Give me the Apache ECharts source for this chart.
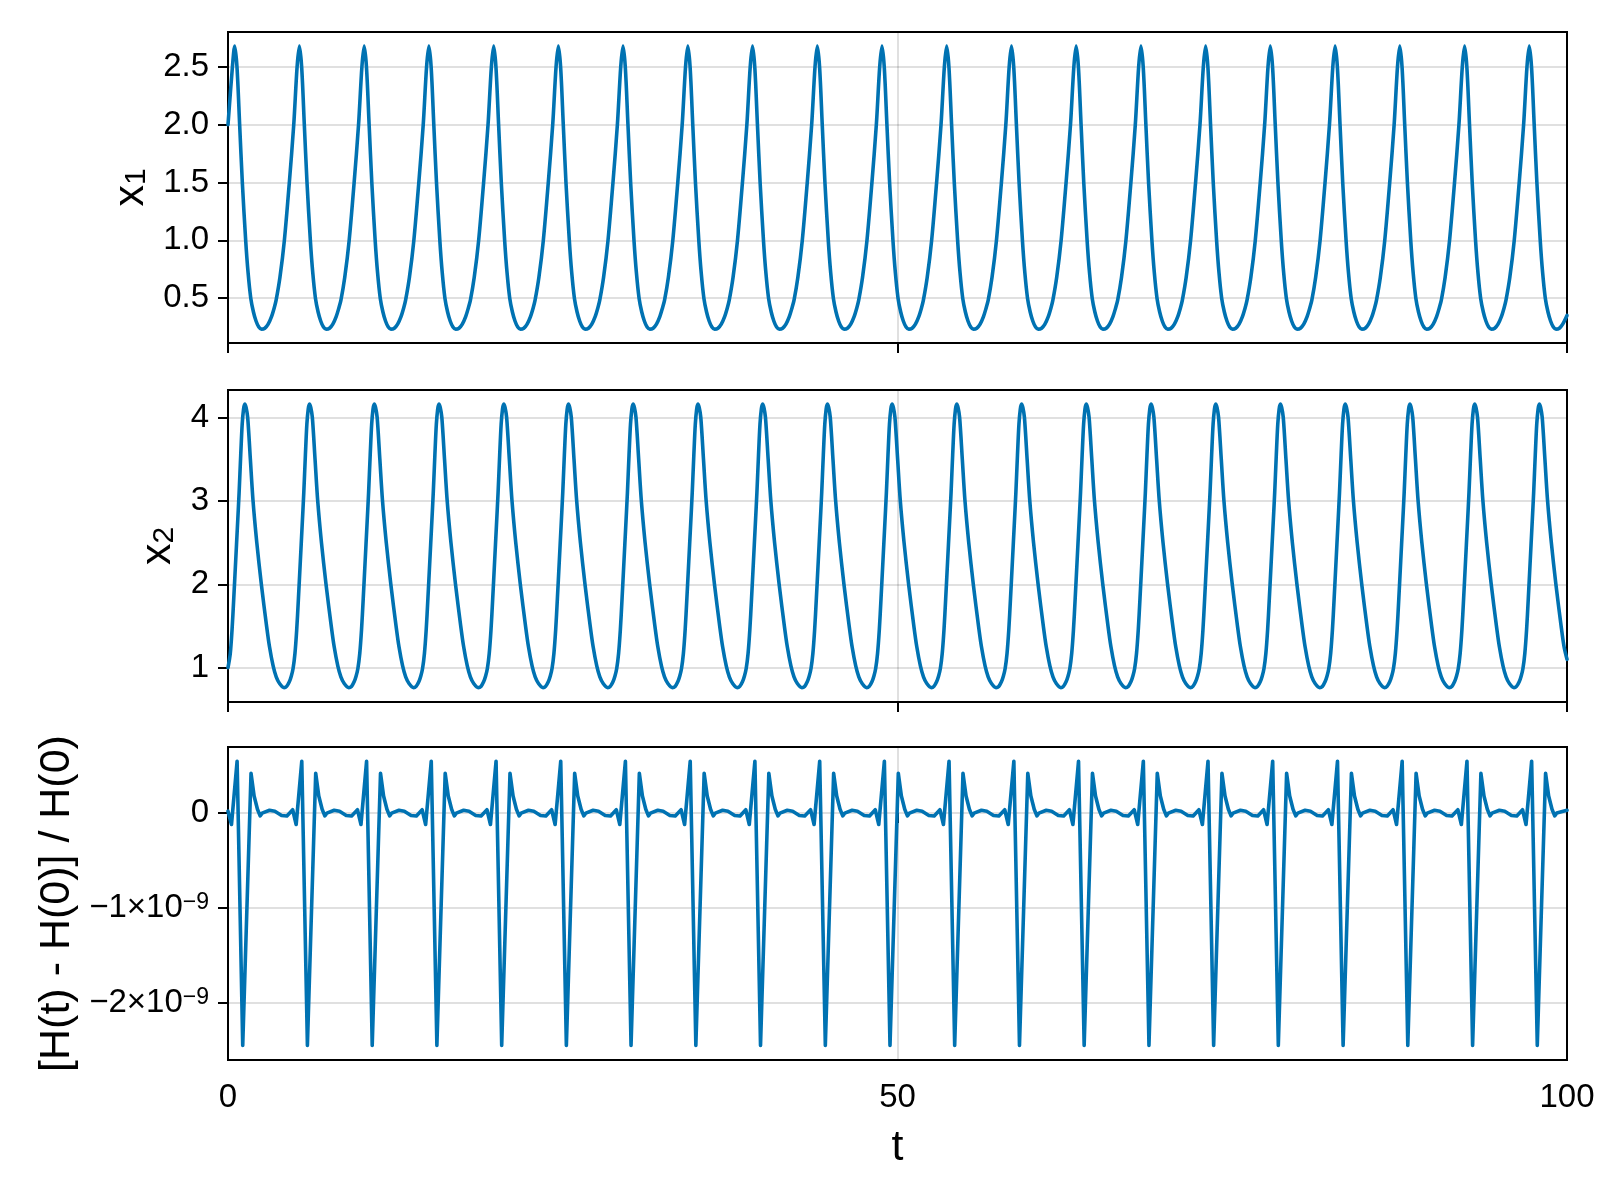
<!DOCTYPE html>
<html><head><meta charset="utf-8">
<script src="https://cdn.jsdelivr.net/npm/echarts@6/dist/echarts.min.js"></script>
<style>html,body{margin:0;padding:0;background:#fff}#chart{width:1600px;height:1200px}</style>
</head><body><div id="chart"></div>
<script>
// ---- data ----
const tTicks = [0, 50, 100];
const x1Ticks = [0.5, 1.0, 1.5, 2.0, 2.5];
const x2Ticks = [1, 2, 3, 4];
const hTicks = [-2, -1, 0]; // units of 1e-9

// x1(t)
const x1Data = [
[0,2.0],[0.33,2.5],[0.5,2.68],[0.67,2.5],[0.87,2],[1.07,1.5],[1.32,1],[1.5,0.72],[1.7,0.5],[1.9,0.38],[2.1,0.3],[2.3,0.25],[2.5,0.232],[2.75,0.24],[3.0,0.275],[3.25,0.34],[3.45,0.415],
[3.59,0.48],[3.88,0.68],[4.21,1],[4.58,1.5],[4.91,2],[5.16,2.5],[5.33,2.68],[5.5,2.5],[5.7,2],[5.9,1.5],[6.15,1],[6.33,0.72],[6.53,0.5],[6.73,0.38],[6.93,0.3],[7.13,0.25],[7.33,0.232],[7.58,0.24],[7.83,0.275],[8.08,0.34],[8.28,0.415],
[8.43,0.48],[8.72,0.68],[9.05,1],[9.42,1.5],[9.75,2],[10,2.5],[10.17,2.68],[10.34,2.5],[10.54,2],[10.74,1.5],[10.99,1],[11.17,0.72],[11.37,0.5],[11.57,0.38],[11.77,0.3],[11.97,0.25],[12.17,0.232],[12.42,0.24],[12.67,0.275],[12.92,0.34],[13.12,0.415],
[13.26,0.48],[13.55,0.68],[13.88,1],[14.25,1.5],[14.58,2],[14.83,2.5],[15,2.68],[15.17,2.5],[15.37,2],[15.57,1.5],[15.82,1],[16,0.72],[16.2,0.5],[16.4,0.38],[16.6,0.3],[16.8,0.25],[17,0.232],[17.25,0.24],[17.5,0.275],[17.75,0.34],[17.95,0.415],
[18.1,0.48],[18.39,0.68],[18.72,1],[19.09,1.5],[19.42,2],[19.67,2.5],[19.84,2.68],[20.01,2.5],[20.21,2],[20.41,1.5],[20.66,1],[20.84,0.72],[21.04,0.5],[21.24,0.38],[21.44,0.3],[21.64,0.25],[21.84,0.232],[22.09,0.24],[22.34,0.275],[22.59,0.34],[22.79,0.415],
[22.93,0.48],[23.22,0.68],[23.55,1],[23.92,1.5],[24.25,2],[24.5,2.5],[24.67,2.68],[24.84,2.5],[25.04,2],[25.24,1.5],[25.49,1],[25.67,0.72],[25.87,0.5],[26.07,0.38],[26.27,0.3],[26.47,0.25],[26.67,0.232],[26.92,0.24],[27.17,0.275],[27.42,0.34],[27.62,0.415],
[27.76,0.48],[28.05,0.68],[28.38,1],[28.75,1.5],[29.08,2],[29.33,2.5],[29.5,2.68],[29.67,2.5],[29.87,2],[30.07,1.5],[30.32,1],[30.5,0.72],[30.7,0.5],[30.9,0.38],[31.1,0.3],[31.3,0.25],[31.5,0.232],[31.75,0.24],[32,0.275],[32.25,0.34],[32.45,0.415],
[32.6,0.48],[32.89,0.68],[33.22,1],[33.59,1.5],[33.92,2],[34.17,2.5],[34.34,2.68],[34.51,2.5],[34.71,2],[34.91,1.5],[35.16,1],[35.34,0.72],[35.54,0.5],[35.74,0.38],[35.94,0.3],[36.14,0.25],[36.34,0.232],[36.59,0.24],[36.84,0.275],[37.09,0.34],[37.29,0.415],
[37.43,0.48],[37.72,0.68],[38.05,1],[38.42,1.5],[38.75,2],[39,2.5],[39.17,2.68],[39.34,2.5],[39.54,2],[39.74,1.5],[39.99,1],[40.17,0.72],[40.37,0.5],[40.57,0.38],[40.77,0.3],[40.97,0.25],[41.17,0.232],[41.42,0.24],[41.67,0.275],[41.92,0.34],[42.12,0.415],
[42.27,0.48],[42.56,0.68],[42.89,1],[43.26,1.5],[43.59,2],[43.84,2.5],[44.01,2.68],[44.18,2.5],[44.38,2],[44.58,1.5],[44.83,1],[45.01,0.72],[45.21,0.5],[45.41,0.38],[45.61,0.3],[45.81,0.25],[46.01,0.232],[46.26,0.24],[46.51,0.275],[46.76,0.34],[46.96,0.415],
[47.1,0.48],[47.39,0.68],[47.72,1],[48.09,1.5],[48.42,2],[48.67,2.5],[48.84,2.68],[49.01,2.5],[49.21,2],[49.41,1.5],[49.66,1],[49.84,0.72],[50.04,0.5],[50.24,0.38],[50.44,0.3],[50.64,0.25],[50.84,0.232],[51.09,0.24],[51.34,0.275],[51.59,0.34],[51.79,0.415],
[51.93,0.48],[52.22,0.68],[52.55,1],[52.92,1.5],[53.25,2],[53.5,2.5],[53.67,2.68],[53.84,2.5],[54.04,2],[54.24,1.5],[54.49,1],[54.67,0.72],[54.87,0.5],[55.07,0.38],[55.27,0.3],[55.47,0.25],[55.67,0.232],[55.92,0.24],[56.17,0.275],[56.42,0.34],[56.62,0.415],
[56.77,0.48],[57.06,0.68],[57.39,1],[57.76,1.5],[58.09,2],[58.34,2.5],[58.51,2.68],[58.68,2.5],[58.88,2],[59.08,1.5],[59.33,1],[59.51,0.72],[59.71,0.5],[59.91,0.38],[60.11,0.3],[60.31,0.25],[60.51,0.232],[60.76,0.24],[61.01,0.275],[61.26,0.34],[61.46,0.415],
[61.6,0.48],[61.89,0.68],[62.22,1],[62.59,1.5],[62.92,2],[63.17,2.5],[63.34,2.68],[63.51,2.5],[63.71,2],[63.91,1.5],[64.16,1],[64.34,0.72],[64.54,0.5],[64.74,0.38],[64.94,0.3],[65.14,0.25],[65.34,0.232],[65.59,0.24],[65.84,0.275],[66.09,0.34],[66.29,0.415],
[66.44,0.48],[66.73,0.68],[67.06,1],[67.43,1.5],[67.76,2],[68.01,2.5],[68.18,2.68],[68.35,2.5],[68.55,2],[68.75,1.5],[69,1],[69.18,0.72],[69.38,0.5],[69.58,0.38],[69.78,0.3],[69.98,0.25],[70.18,0.232],[70.43,0.24],[70.68,0.275],[70.93,0.34],[71.13,0.415],
[71.27,0.48],[71.56,0.68],[71.89,1],[72.26,1.5],[72.59,2],[72.84,2.5],[73.01,2.68],[73.18,2.5],[73.38,2],[73.58,1.5],[73.83,1],[74.01,0.72],[74.21,0.5],[74.41,0.38],[74.61,0.3],[74.81,0.25],[75.01,0.232],[75.26,0.24],[75.51,0.275],[75.76,0.34],[75.96,0.415],
[76.1,0.48],[76.39,0.68],[76.72,1],[77.09,1.5],[77.42,2],[77.67,2.5],[77.84,2.68],[78.01,2.5],[78.21,2],[78.41,1.5],[78.66,1],[78.84,0.72],[79.04,0.5],[79.24,0.38],[79.44,0.3],[79.64,0.25],[79.84,0.232],[80.09,0.24],[80.34,0.275],[80.59,0.34],[80.79,0.415],
[80.94,0.48],[81.23,0.68],[81.56,1],[81.93,1.5],[82.26,2],[82.51,2.5],[82.68,2.68],[82.85,2.5],[83.05,2],[83.25,1.5],[83.5,1],[83.68,0.72],[83.88,0.5],[84.08,0.38],[84.28,0.3],[84.48,0.25],[84.68,0.232],[84.93,0.24],[85.18,0.275],[85.43,0.34],[85.63,0.415],
[85.77,0.48],[86.06,0.68],[86.39,1],[86.76,1.5],[87.09,2],[87.34,2.5],[87.51,2.68],[87.68,2.5],[87.88,2],[88.08,1.5],[88.33,1],[88.51,0.72],[88.71,0.5],[88.91,0.38],[89.11,0.3],[89.31,0.25],[89.51,0.232],[89.76,0.24],[90.01,0.275],[90.26,0.34],[90.46,0.415],
[90.61,0.48],[90.9,0.68],[91.23,1],[91.6,1.5],[91.93,2],[92.18,2.5],[92.35,2.68],[92.52,2.5],[92.72,2],[92.92,1.5],[93.17,1],[93.35,0.72],[93.55,0.5],[93.75,0.38],[93.95,0.3],[94.15,0.25],[94.35,0.232],[94.6,0.24],[94.85,0.275],[95.1,0.34],[95.3,0.415],
[95.44,0.48],[95.73,0.68],[96.06,1],[96.43,1.5],[96.76,2],[97.01,2.5],[97.18,2.68],[97.35,2.5],[97.55,2],[97.75,1.5],[98,1],[98.18,0.72],[98.38,0.5],[98.58,0.38],[98.78,0.3],[98.98,0.25],[99.18,0.232],[99.43,0.24],[99.68,0.275],[100,0.35]
];

// x2(t)
const x2Data = [
[0,1.0],[0.17,1.17],[0.3,1.45],[0.43,1.83],[0.57,2.27],[0.7,2.68],[0.83,3.1],[0.95,3.55],[1.06,3.92],[1.16,4.1],[1.25,4.16],[1.35,4.12],[1.47,4],[1.67,3.5],[1.87,3],[2.15,2.5],[2.49,2],[2.88,1.5],[3.1,1.25],[3.37,1.02],[3.6,0.89],[3.85,0.81],[4.19,0.76],
[4.38,0.775],[4.58,0.83],[4.73,0.9],[4.86,0.99],[5,1.17],[5.13,1.45],[5.26,1.83],[5.4,2.27],[5.53,2.68],[5.66,3.1],[5.78,3.55],[5.89,3.92],[5.99,4.1],[6.08,4.16],[6.18,4.12],[6.3,4],[6.5,3.5],[6.7,3],[6.98,2.5],[7.32,2],[7.71,1.5],[7.93,1.25],[8.2,1.02],[8.43,0.89],[8.68,0.81],[9.02,0.76],
[9.22,0.775],[9.42,0.83],[9.57,0.9],[9.7,0.99],[9.84,1.17],[9.97,1.45],[10.1,1.83],[10.24,2.27],[10.37,2.68],[10.5,3.1],[10.62,3.55],[10.73,3.92],[10.83,4.1],[10.92,4.16],[11.02,4.12],[11.14,4],[11.34,3.5],[11.54,3],[11.82,2.5],[12.16,2],[12.55,1.5],[12.77,1.25],[13.04,1.02],[13.27,0.89],[13.52,0.81],[13.86,0.76],
[14.05,0.775],[14.25,0.83],[14.4,0.9],[14.53,0.99],[14.67,1.17],[14.8,1.45],[14.93,1.83],[15.07,2.27],[15.2,2.68],[15.33,3.1],[15.45,3.55],[15.56,3.92],[15.66,4.1],[15.75,4.16],[15.85,4.12],[15.97,4],[16.17,3.5],[16.37,3],[16.65,2.5],[16.99,2],[17.38,1.5],[17.6,1.25],[17.87,1.02],[18.1,0.89],[18.35,0.81],[18.69,0.76],
[18.89,0.775],[19.09,0.83],[19.24,0.9],[19.37,0.99],[19.51,1.17],[19.64,1.45],[19.77,1.83],[19.91,2.27],[20.04,2.68],[20.17,3.1],[20.29,3.55],[20.4,3.92],[20.5,4.1],[20.59,4.16],[20.69,4.12],[20.81,4],[21.01,3.5],[21.21,3],[21.49,2.5],[21.83,2],[22.22,1.5],[22.44,1.25],[22.71,1.02],[22.94,0.89],[23.19,0.81],[23.53,0.76],
[23.72,0.775],[23.92,0.83],[24.07,0.9],[24.2,0.99],[24.34,1.17],[24.47,1.45],[24.6,1.83],[24.74,2.27],[24.87,2.68],[25,3.1],[25.12,3.55],[25.23,3.92],[25.33,4.1],[25.42,4.16],[25.52,4.12],[25.64,4],[25.84,3.5],[26.04,3],[26.32,2.5],[26.66,2],[27.05,1.5],[27.27,1.25],[27.54,1.02],[27.77,0.89],[28.02,0.81],[28.36,0.76],
[28.55,0.775],[28.75,0.83],[28.9,0.9],[29.03,0.99],[29.17,1.17],[29.3,1.45],[29.43,1.83],[29.57,2.27],[29.7,2.68],[29.83,3.1],[29.95,3.55],[30.06,3.92],[30.16,4.1],[30.25,4.16],[30.35,4.12],[30.47,4],[30.67,3.5],[30.87,3],[31.15,2.5],[31.49,2],[31.88,1.5],[32.1,1.25],[32.37,1.02],[32.6,0.89],[32.85,0.81],[33.19,0.76],
[33.39,0.775],[33.59,0.83],[33.74,0.9],[33.87,0.99],[34.01,1.17],[34.14,1.45],[34.27,1.83],[34.41,2.27],[34.54,2.68],[34.67,3.1],[34.79,3.55],[34.9,3.92],[35,4.1],[35.09,4.16],[35.19,4.12],[35.31,4],[35.51,3.5],[35.71,3],[35.99,2.5],[36.33,2],[36.72,1.5],[36.94,1.25],[37.21,1.02],[37.44,0.89],[37.69,0.81],[38.03,0.76],
[38.22,0.775],[38.42,0.83],[38.57,0.9],[38.7,0.99],[38.84,1.17],[38.97,1.45],[39.1,1.83],[39.24,2.27],[39.37,2.68],[39.5,3.1],[39.62,3.55],[39.73,3.92],[39.83,4.1],[39.92,4.16],[40.02,4.12],[40.14,4],[40.34,3.5],[40.54,3],[40.82,2.5],[41.16,2],[41.55,1.5],[41.77,1.25],[42.04,1.02],[42.27,0.89],[42.52,0.81],[42.86,0.76],
[43.06,0.775],[43.26,0.83],[43.41,0.9],[43.54,0.99],[43.68,1.17],[43.81,1.45],[43.94,1.83],[44.08,2.27],[44.21,2.68],[44.34,3.1],[44.46,3.55],[44.57,3.92],[44.67,4.1],[44.76,4.16],[44.86,4.12],[44.98,4],[45.18,3.5],[45.38,3],[45.66,2.5],[46,2],[46.39,1.5],[46.61,1.25],[46.88,1.02],[47.11,0.89],[47.36,0.81],[47.7,0.76],
[47.89,0.775],[48.09,0.83],[48.24,0.9],[48.37,0.99],[48.51,1.17],[48.64,1.45],[48.77,1.83],[48.91,2.27],[49.04,2.68],[49.17,3.1],[49.29,3.55],[49.4,3.92],[49.5,4.1],[49.59,4.16],[49.69,4.12],[49.81,4],[50.01,3.5],[50.21,3],[50.49,2.5],[50.83,2],[51.22,1.5],[51.44,1.25],[51.71,1.02],[51.94,0.89],[52.19,0.81],[52.53,0.76],
[52.72,0.775],[52.92,0.83],[53.07,0.9],[53.2,0.99],[53.34,1.17],[53.47,1.45],[53.6,1.83],[53.74,2.27],[53.87,2.68],[54,3.1],[54.12,3.55],[54.23,3.92],[54.33,4.1],[54.42,4.16],[54.52,4.12],[54.64,4],[54.84,3.5],[55.04,3],[55.32,2.5],[55.66,2],[56.05,1.5],[56.27,1.25],[56.54,1.02],[56.77,0.89],[57.02,0.81],[57.36,0.76],
[57.56,0.775],[57.76,0.83],[57.91,0.9],[58.04,0.99],[58.18,1.17],[58.31,1.45],[58.44,1.83],[58.58,2.27],[58.71,2.68],[58.84,3.1],[58.96,3.55],[59.07,3.92],[59.17,4.1],[59.26,4.16],[59.36,4.12],[59.48,4],[59.68,3.5],[59.88,3],[60.16,2.5],[60.5,2],[60.89,1.5],[61.11,1.25],[61.38,1.02],[61.61,0.89],[61.86,0.81],[62.2,0.76],
[62.39,0.775],[62.59,0.83],[62.74,0.9],[62.87,0.99],[63.01,1.17],[63.14,1.45],[63.27,1.83],[63.41,2.27],[63.54,2.68],[63.67,3.1],[63.79,3.55],[63.9,3.92],[64,4.1],[64.09,4.16],[64.19,4.12],[64.31,4],[64.51,3.5],[64.71,3],[64.99,2.5],[65.33,2],[65.72,1.5],[65.94,1.25],[66.21,1.02],[66.44,0.89],[66.69,0.81],[67.03,0.76],
[67.23,0.775],[67.43,0.83],[67.58,0.9],[67.71,0.99],[67.85,1.17],[67.98,1.45],[68.11,1.83],[68.25,2.27],[68.38,2.68],[68.51,3.1],[68.63,3.55],[68.74,3.92],[68.84,4.1],[68.93,4.16],[69.03,4.12],[69.15,4],[69.35,3.5],[69.55,3],[69.83,2.5],[70.17,2],[70.56,1.5],[70.78,1.25],[71.05,1.02],[71.28,0.89],[71.53,0.81],[71.87,0.76],
[72.06,0.775],[72.26,0.83],[72.41,0.9],[72.54,0.99],[72.68,1.17],[72.81,1.45],[72.94,1.83],[73.08,2.27],[73.21,2.68],[73.34,3.1],[73.46,3.55],[73.57,3.92],[73.67,4.1],[73.76,4.16],[73.86,4.12],[73.98,4],[74.18,3.5],[74.38,3],[74.66,2.5],[75,2],[75.39,1.5],[75.61,1.25],[75.88,1.02],[76.11,0.89],[76.36,0.81],[76.7,0.76],
[76.89,0.775],[77.09,0.83],[77.24,0.9],[77.37,0.99],[77.51,1.17],[77.64,1.45],[77.77,1.83],[77.91,2.27],[78.04,2.68],[78.17,3.1],[78.29,3.55],[78.4,3.92],[78.5,4.1],[78.59,4.16],[78.69,4.12],[78.81,4],[79.01,3.5],[79.21,3],[79.49,2.5],[79.83,2],[80.22,1.5],[80.44,1.25],[80.71,1.02],[80.94,0.89],[81.19,0.81],[81.53,0.76],
[81.73,0.775],[81.93,0.83],[82.08,0.9],[82.21,0.99],[82.35,1.17],[82.48,1.45],[82.61,1.83],[82.75,2.27],[82.88,2.68],[83.01,3.1],[83.13,3.55],[83.24,3.92],[83.34,4.1],[83.43,4.16],[83.53,4.12],[83.65,4],[83.85,3.5],[84.05,3],[84.33,2.5],[84.67,2],[85.06,1.5],[85.28,1.25],[85.55,1.02],[85.78,0.89],[86.03,0.81],[86.37,0.76],
[86.56,0.775],[86.76,0.83],[86.91,0.9],[87.04,0.99],[87.18,1.17],[87.31,1.45],[87.44,1.83],[87.58,2.27],[87.71,2.68],[87.84,3.1],[87.96,3.55],[88.07,3.92],[88.17,4.1],[88.26,4.16],[88.36,4.12],[88.48,4],[88.68,3.5],[88.88,3],[89.16,2.5],[89.5,2],[89.89,1.5],[90.11,1.25],[90.38,1.02],[90.61,0.89],[90.86,0.81],[91.2,0.76],
[91.4,0.775],[91.6,0.83],[91.75,0.9],[91.88,0.99],[92.02,1.17],[92.15,1.45],[92.28,1.83],[92.42,2.27],[92.55,2.68],[92.68,3.1],[92.8,3.55],[92.91,3.92],[93.01,4.1],[93.1,4.16],[93.2,4.12],[93.32,4],[93.52,3.5],[93.72,3],[94,2.5],[94.34,2],[94.73,1.5],[94.95,1.25],[95.22,1.02],[95.45,0.89],[95.7,0.81],[96.04,0.76],
[96.23,0.775],[96.43,0.83],[96.58,0.9],[96.71,0.99],[96.85,1.17],[96.98,1.45],[97.11,1.83],[97.25,2.27],[97.38,2.68],[97.51,3.1],[97.63,3.55],[97.74,3.92],[97.84,4.1],[97.93,4.16],[98.03,4.12],[98.15,4],[98.35,3.5],[98.55,3],[98.83,2.5],[99.17,2],[99.56,1.5],[99.78,1.25],[100,1.1]
];

// [H(t) - H(0)] / H(0), in units of 1e-9
const hData = [
[0,0.02],[0.26,-0.12],[0.68,0.546],[1.1,-2.447],[1.72,0.42],[1.95,0.18],[2.2,0.04],[2.4,-0.03],[2.55,0],[3.1,0.03],[3.5,0.02],[4,-0.025],[4.4,-0.03],
[4.83,0.035],[5.09,-0.12],[5.51,0.546],[5.93,-2.447],[6.55,0.42],[6.78,0.18],[7.03,0.04],[7.23,-0.03],[7.38,0],[7.93,0.03],[8.33,0.02],[8.83,-0.025],[9.23,-0.03],
[9.67,0.035],[9.93,-0.12],[10.35,0.546],[10.77,-2.447],[11.39,0.42],[11.62,0.18],[11.87,0.04],[12.07,-0.03],[12.22,0],[12.77,0.03],[13.17,0.02],[13.67,-0.025],[14.07,-0.03],
[14.5,0.035],[14.76,-0.12],[15.18,0.546],[15.6,-2.447],[16.22,0.42],[16.45,0.18],[16.7,0.04],[16.9,-0.03],[17.05,0],[17.6,0.03],[18,0.02],[18.5,-0.025],[18.9,-0.03],
[19.34,0.035],[19.6,-0.12],[20.02,0.546],[20.44,-2.447],[21.06,0.42],[21.29,0.18],[21.54,0.04],[21.74,-0.03],[21.89,0],[22.44,0.03],[22.84,0.02],[23.34,-0.025],[23.74,-0.03],
[24.17,0.035],[24.43,-0.12],[24.85,0.546],[25.27,-2.447],[25.89,0.42],[26.12,0.18],[26.37,0.04],[26.57,-0.03],[26.72,0],[27.27,0.03],[27.67,0.02],[28.17,-0.025],[28.57,-0.03],
[29,0.035],[29.26,-0.12],[29.68,0.546],[30.1,-2.447],[30.72,0.42],[30.95,0.18],[31.2,0.04],[31.4,-0.03],[31.55,0],[32.1,0.03],[32.5,0.02],[33,-0.025],[33.4,-0.03],
[33.84,0.035],[34.1,-0.12],[34.52,0.546],[34.94,-2.447],[35.56,0.42],[35.79,0.18],[36.04,0.04],[36.24,-0.03],[36.39,0],[36.94,0.03],[37.34,0.02],[37.84,-0.025],[38.24,-0.03],
[38.67,0.035],[38.93,-0.12],[39.35,0.546],[39.77,-2.447],[40.39,0.42],[40.62,0.18],[40.87,0.04],[41.07,-0.03],[41.22,0],[41.77,0.03],[42.17,0.02],[42.67,-0.025],[43.07,-0.03],
[43.51,0.035],[43.77,-0.12],[44.19,0.546],[44.61,-2.447],[45.23,0.42],[45.46,0.18],[45.71,0.04],[45.91,-0.03],[46.06,0],[46.61,0.03],[47.01,0.02],[47.51,-0.025],[47.91,-0.03],
[48.34,0.035],[48.6,-0.12],[49.02,0.546],[49.44,-2.447],[50.06,0.42],[50.29,0.18],[50.54,0.04],[50.74,-0.03],[50.89,0],[51.44,0.03],[51.84,0.02],[52.34,-0.025],[52.74,-0.03],
[53.17,0.035],[53.43,-0.12],[53.85,0.546],[54.27,-2.447],[54.89,0.42],[55.12,0.18],[55.37,0.04],[55.57,-0.03],[55.72,0],[56.27,0.03],[56.67,0.02],[57.17,-0.025],[57.57,-0.03],
[58.01,0.035],[58.27,-0.12],[58.69,0.546],[59.11,-2.447],[59.73,0.42],[59.96,0.18],[60.21,0.04],[60.41,-0.03],[60.56,0],[61.11,0.03],[61.51,0.02],[62.01,-0.025],[62.41,-0.03],
[62.84,0.035],[63.1,-0.12],[63.52,0.546],[63.94,-2.447],[64.56,0.42],[64.79,0.18],[65.04,0.04],[65.24,-0.03],[65.39,0],[65.94,0.03],[66.34,0.02],[66.84,-0.025],[67.24,-0.03],
[67.68,0.035],[67.94,-0.12],[68.36,0.546],[68.78,-2.447],[69.4,0.42],[69.63,0.18],[69.88,0.04],[70.08,-0.03],[70.23,0],[70.78,0.03],[71.18,0.02],[71.68,-0.025],[72.08,-0.03],
[72.51,0.035],[72.77,-0.12],[73.19,0.546],[73.61,-2.447],[74.23,0.42],[74.46,0.18],[74.71,0.04],[74.91,-0.03],[75.06,0],[75.61,0.03],[76.01,0.02],[76.51,-0.025],[76.91,-0.03],
[77.34,0.035],[77.6,-0.12],[78.02,0.546],[78.44,-2.447],[79.06,0.42],[79.29,0.18],[79.54,0.04],[79.74,-0.03],[79.89,0],[80.44,0.03],[80.84,0.02],[81.34,-0.025],[81.74,-0.03],
[82.18,0.035],[82.44,-0.12],[82.86,0.546],[83.28,-2.447],[83.9,0.42],[84.13,0.18],[84.38,0.04],[84.58,-0.03],[84.73,0],[85.28,0.03],[85.68,0.02],[86.18,-0.025],[86.58,-0.03],
[87.01,0.035],[87.27,-0.12],[87.69,0.546],[88.11,-2.447],[88.73,0.42],[88.96,0.18],[89.21,0.04],[89.41,-0.03],[89.56,0],[90.11,0.03],[90.51,0.02],[91.01,-0.025],[91.41,-0.03],
[91.85,0.035],[92.11,-0.12],[92.53,0.546],[92.95,-2.447],[93.57,0.42],[93.8,0.18],[94.05,0.04],[94.25,-0.03],[94.4,0],[94.95,0.03],[95.35,0.02],[95.85,-0.025],[96.25,-0.03],
[96.68,0.035],[96.94,-0.12],[97.36,0.546],[97.78,-2.447],[98.4,0.42],[98.63,0.18],[98.88,0.04],[99.08,-0.03],[99.23,0],[100,0.03]
];

// ---- chart ----
const FONT = '"Liberation Sans", Arial, Helvetica, "DejaVu Sans", sans-serif';
const BLUE = '#0072B2';
const GRIDC = 'rgba(0,0,0,0.12)';
const TICK_FS = 33, LABEL_FS = 43;

const grids = [
  {left: 228, top: 32, width: 1339, height: 311},
  {left: 228, top: 390, width: 1339, height: 312},
  {left: 228, top: 747, width: 1339, height: 313}
].map(g => Object.assign(g, {show: true, borderColor: '#000', borderWidth: 2, backgroundColor: 'transparent'}));

function xAx(i, labels) {
  const o = {
    type: 'value', gridIndex: i, min: 0, max: 100,
    axisLine: {show: false},
    axisTick: {show: true, customValues: tTicks, length: 10, lineStyle: {color: '#000', width: 2}},
    axisLabel: {show: labels, customValues: tTicks, color: '#000', fontSize: TICK_FS, fontFamily: FONT, margin: 21},
    splitLine: {show: true, lineStyle: {color: GRIDC, width: 2}}
  };
  if (labels) {
    o.name = 't'; o.nameLocation = 'middle'; o.nameGap = 67;
    o.nameTextStyle = {fontSize: LABEL_FS, color: '#000', fontFamily: FONT};
  }
  return o;
}
const nameRich = {
  n: {fontSize: LABEL_FS, color: '#000', fontFamily: FONT},
  sub: {fontSize: 30, color: '#000', fontFamily: FONT, verticalAlign: 'bottom'}
};
function yAx(i, ext, ticks, name, gap, fmt, rich) {
  return {
    type: 'value', gridIndex: i, min: ext[0], max: ext[1],
    name: name, nameLocation: 'middle', nameGap: gap,
    nameTextStyle: {fontSize: LABEL_FS, color: '#000', fontFamily: FONT, rich: nameRich},
    axisLine: {show: false},
    axisTick: {show: true, customValues: ticks, length: 10, lineStyle: {color: '#000', width: 2}},
    axisLabel: {customValues: ticks, color: '#000', fontSize: TICK_FS, fontFamily: FONT, margin: 19, formatter: fmt, rich: rich},
    splitLine: {show: true, lineStyle: {color: GRIDC, width: 2}}
  };
}
const supRich = {
  m: {fontSize: TICK_FS, color: '#000', fontFamily: FONT},
  s: {fontSize: 23, color: '#000', fontFamily: FONT, verticalAlign: 'top'}
};
function lineSeries(i, data, smooth) {
  return {
    type: 'line', xAxisIndex: i, yAxisIndex: i, data: data,
    showSymbol: false, symbol: 'none', smooth: smooth, animation: false,
    lineStyle: {color: BLUE, width: 3.6, join: 'round', cap: 'round'}
  };
}

const option = {
  backgroundColor: '#fff',
  animation: false,
  grid: grids,
  xAxis: [xAx(0, false), xAx(1, false), xAx(2, true)],
  yAxis: [
    yAx(0, [0.112, 2.802], x1Ticks, '{n|x}{sub|1}', 70, v => v.toFixed(1)),
    yAx(1, [0.588, 4.33], x2Ticks, '{n|x}{sub|2}', 47, v => String(v)),
    yAx(2, [-2.6, 0.696], hTicks, '{n|[H(t) - H(0)] / H(0)}', 147,
      v => (Math.abs(v) < 1e-9 ? '{m|0}' : '{m|\u2212' + Math.abs(v) + '×10}{s|\u22129}'), supRich)
  ],
  series: [lineSeries(0, x1Data, 0.3), lineSeries(1, x2Data, 0.3), lineSeries(2, hData, false)]
};
const chart = echarts.init(document.getElementById('chart'));
chart.setOption(option);
</script>
</body></html>
